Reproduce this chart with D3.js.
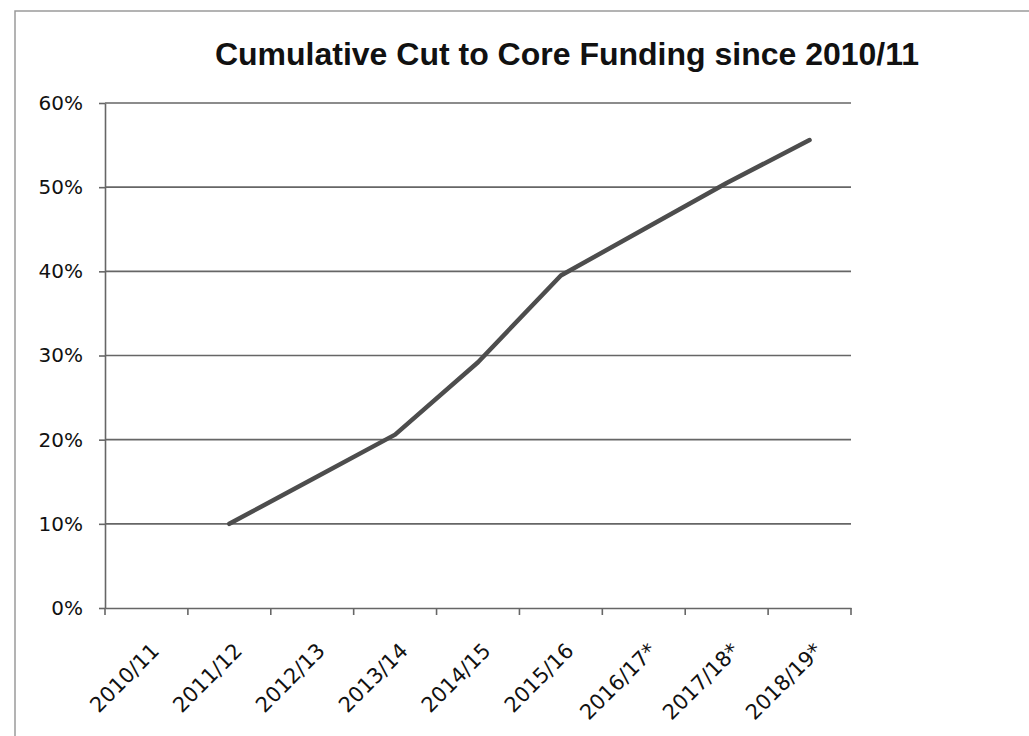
<!DOCTYPE html>
<html>
<head>
<meta charset="utf-8">
<script src="https://cdn.jsdelivr.net/npm/d3@7"></script>
<style>
  body { margin: 0; background: #fff; }
  svg { display: block; }
  .lbl { font-family: "DejaVu Sans", sans-serif; fill: #111; }
</style>
</head>
<body>
<div id="chart"></div>
<script>
// data
var years = ["2010/11", "2011/12", "2012/13", "2013/14", "2014/15", "2015/16", "2016/17*", "2017/18*", "2018/19*"];
var cut = [null, 0.10, 0.153, 0.206, 0.292, 0.395, 0.45, 0.505, 0.556];
var yTicks = [0, 0.1, 0.2, 0.3, 0.4, 0.5, 0.6];
var title = "Cumulative Cut to Core Funding since 2010/11";

var W = 1029, H = 736;
var plotL = 105, plotR = 851, plotT = 103, plotB = 608;

var svg = d3.select("#chart").append("svg")
  .attr("width", W)
  .attr("height", H);

// chart frame (only left and top edge show in the scan)
svg.append("path")
  .attr("d", "M15,740 L15,11 L1040,11")
  .attr("fill", "none")
  .attr("stroke", "#9a9a9a")
  .attr("stroke-width", 1.5);

svg.append("text")
  .attr("x", 567)
  .attr("y", 65)
  .attr("text-anchor", "middle")
  .style("font-family", "'Liberation Sans', Arial, sans-serif")
  .style("font-weight", "bold")
  .style("font-size", "32px")
  .attr("fill", "#111")
  .text(title);

var x = d3.scaleBand().domain(years).range([plotL, plotR]);
var y = d3.scaleLinear().domain([0, 0.6]).range([plotB, plotT]);

// gridlines
svg.append("g")
  .selectAll("line")
  .data(yTicks.slice(1))
  .enter().append("line")
  .attr("x1", plotL)
  .attr("x2", plotR)
  .attr("y1", d => y(d))
  .attr("y2", d => y(d))
  .attr("stroke", "#666")
  .attr("stroke-width", 1.6);

// y axis
var yAxis = svg.append("g")
  .attr("transform", "translate(" + plotL + ",0)")
  .call(d3.axisLeft(y).tickValues(yTicks).tickFormat(d3.format(".0%")).tickSizeInner(6).tickSizeOuter(0).tickPadding(16));

// x axis, ticks sit between the categories
var xAxis = svg.append("g")
  .attr("transform", "translate(0," + plotB + ")")
  .call(d3.axisBottom(x).tickSize(0).tickFormat(""));

xAxis.selectAll(".tk")
  .data(d3.range(years.length + 1))
  .enter().append("line")
  .attr("class", "tk")
  .attr("x1", i => plotL + i * x.step())
  .attr("x2", i => plotL + i * x.step())
  .attr("y1", 0)
  .attr("y2", 7);

[yAxis, xAxis].forEach(function (g) {
  g.selectAll(".domain, line").attr("stroke", "#666").attr("stroke-width", 1.6);
});

yAxis.selectAll("text")
  .attr("class", "lbl")
  .style("font-size", "20px");

svg.append("g")
  .selectAll("text")
  .data(years)
  .enter().append("text")
  .attr("class", "lbl")
  .attr("transform", d => "translate(" + (x(d) + x.bandwidth() / 2 + 14) + "," + (plotB + 44) + ") rotate(-45)")
  .attr("text-anchor", "end")
  .style("font-size", "21px")
  .text(d => d);

// the series
var line = d3.line()
  .defined(d => d != null)
  .x((d, i) => x(years[i]) + x.bandwidth() / 2)
  .y(d => y(d));

svg.append("path")
  .datum(cut)
  .attr("d", line)
  .attr("fill", "none")
  .attr("stroke", "#4d4d4d")
  .attr("stroke-width", 4.5)
  .attr("stroke-linejoin", "round")
  .attr("stroke-linecap", "round");
</script>
</body>
</html>
